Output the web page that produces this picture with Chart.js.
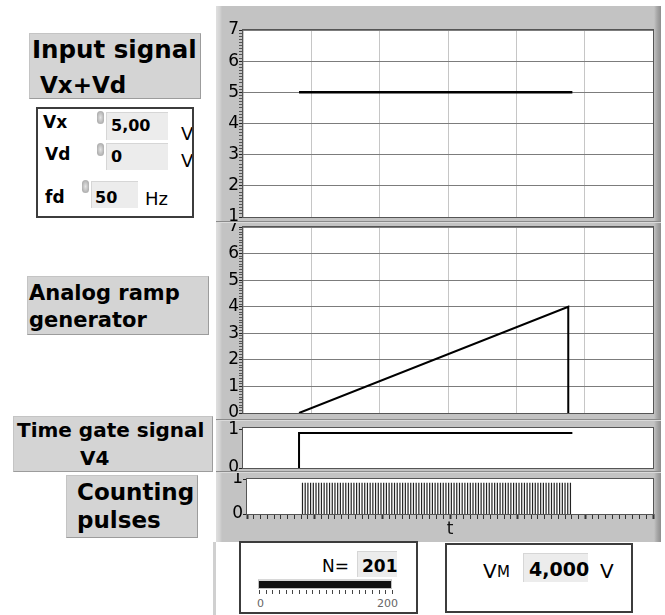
<!DOCTYPE html>
<html>
<head>
<meta charset="utf-8">
<script src="https://cdn.jsdelivr.net/npm/chart.js@4"></script>
<style>
  body { margin: 0; width: 665px; height: 615px; position: relative; overflow: hidden; background: #fff; font-family: 'DejaVu Sans', sans-serif; color: #000; }
  .t { position: absolute; white-space: nowrap; line-height: 1; }
  .b { font-weight: bold; }
  .label { position: absolute; background: #d4d4d4; box-sizing: border-box; border: 1px solid #c4c4c4; border-right-color: #9c9c9c; border-bottom-color: #9c9c9c; }
  .box { position: absolute; box-sizing: border-box; border: 2px solid #3c3c3c; background: #fff; overflow: hidden; }
  .field { position: absolute; box-sizing: border-box; background: #ececec; border-top: 1px solid #d6d6d6; border-left: 1px solid #d6d6d6; }
  .spin { position: absolute; width: 7px; height: 13px; border-radius: 4px; background: radial-gradient(ellipse at 50% 50%, #e4e4e4 0, #b0b0b0 70%); }
  canvas.plot { position: absolute; display: block; left: 216px;
    background: linear-gradient(to right, #e0e0e0 0px, #d2d2d2 4px, #c3c3c3 6px, #c3c3c3 438px, #a8a8a8 441px, #8e8e8e 445px); }
  .sep { position: absolute; left: 216px; width: 445px; height: 1px; background: #8a8a8a; border-bottom: 1px solid #dadada; }
</style>
</head>
<body>
  <!-- left side labels and controls -->
  <div class="label" style="left:29px;top:33px;width:172px;height:66px;"></div>
  <div class="t b" style="left:32px;top:38px;font-size:24.5px;">Input signal</div>
  <div class="t b" style="left:40px;top:73.5px;font-size:23px;">Vx+Vd</div>

  <div class="box" style="left:36px;top:107px;width:158px;height:111px;">
    <div class="t b" style="left:5px;top:4.6px;font-size:17px;">Vx</div>
    <div class="t b" style="left:7px;top:36.6px;font-size:17px;">Vd</div>
    <div class="t b" style="left:7px;top:79.6px;font-size:17px;">fd</div>
    <div class="field" style="left:68px;top:3px;width:62px;height:28px;"></div>
    <div class="field" style="left:68px;top:34px;width:62px;height:27px;"></div>
    <div class="field" style="left:53px;top:72px;width:47px;height:27px;"></div>
    <div class="spin" style="left:59px;top:2px;"></div>
    <div class="spin" style="left:59px;top:34px;"></div>
    <div class="spin" style="left:44px;top:71px;"></div>
    <div class="t b" style="left:73px;top:8.5px;font-size:16px;">5,00</div>
    <div class="t b" style="left:73px;top:39.5px;font-size:16px;">0</div>
    <div class="t b" style="left:57px;top:80.5px;font-size:16px;">50</div>
    <div class="t" style="left:143px;top:15.8px;font-size:18px;">V</div>
    <div class="t" style="left:143px;top:42.8px;font-size:18px;">V</div>
    <div class="t" style="left:107px;top:80.8px;font-size:18px;">Hz</div>
  </div>

  <div class="label" style="left:27px;top:276px;width:182px;height:59px;"></div>
  <div class="t b" style="left:29px;top:283px;font-size:21px;">Analog ramp</div>
  <div class="t b" style="left:29px;top:310px;font-size:21px;">generator</div>

  <div class="label" style="left:13px;top:416px;width:200px;height:56px;"></div>
  <div class="t b" style="left:17px;top:420px;font-size:20px;">Time gate signal</div>
  <div class="t b" style="left:80px;top:448px;font-size:20px;">V4</div>

  <div class="label" style="left:66px;top:475px;width:132px;height:63px;"></div>
  <div class="t b" style="left:77px;top:480.5px;font-size:23px;">Counting</div>
  <div class="t b" style="left:77px;top:508.5px;font-size:23px;">pulses</div>

  <!-- graphs -->
  <canvas class="plot" id="chartInput" width="445" height="217" style="top:6px;"></canvas>
  <canvas class="plot" id="chartRamp" width="445" height="197" style="top:223px;"></canvas>
  <canvas class="plot" id="chartGate" width="445" height="52" style="top:420px;"></canvas>
  <canvas class="plot" id="chartPulses" width="445" height="70" style="top:472px;"></canvas>
  <div class="sep" style="top:221px;"></div>
  <div class="sep" style="top:419px;"></div>
  <div class="sep" style="top:471px;"></div>
  <div style="position:absolute;left:213px;top:542px;width:3px;height:73px;background:#d0d0d0;"></div>

  <!-- indicators -->
  <div class="box" style="left:239px;top:541px;width:179px;height:73px;">
    <div class="t" style="left:81px;top:14.6px;font-size:17px;">N=</div>
    <div class="field" style="left:116px;top:8px;width:40px;height:26px;"></div>
    <div class="t b" style="left:121px;top:14.6px;font-size:17px;" id="countText"></div>
    <div style="position:absolute;left:17px;top:36px;width:134px;height:10px;box-sizing:border-box;border:1px solid #c0c0c0;border-top:2px solid #d8d8d8;background:#111;"></div>
    <div style="position:absolute;left:18px;top:47px;width:134px;height:4px;background:repeating-linear-gradient(to right,#444 0,#444 1px,transparent 1px,transparent 6.65px);"></div>
    <div class="t" style="left:16px;top:54.7px;font-size:11px;color:#666;">0</div>
    <div class="t" style="left:136px;top:54.7px;font-size:11px;color:#666;">200</div>
  </div>
  <div class="box" style="left:445px;top:543px;width:188px;height:70px;">
    <div class="t" style="left:36px;top:16.1px;font-size:20px;">V</div>
    <div class="t" style="left:50px;top:20.3px;font-size:15px;">M</div>
    <div class="field" style="left:76px;top:8px;width:65px;height:29px;"></div>
    <div class="t b" style="left:82px;top:14.9px;font-size:19px;" id="vmText"></div>
    <div class="t" style="left:153px;top:16.1px;font-size:20px;">V</div>
  </div>

<script>
// time axis in samples
const tMin = 0;
const tMax = 300;
const tGrid = 50;

// input signal Vx+Vd
const inputT = [41, 241];
const inputV = [5, 5];

// analog ramp
const rampT = [41, 238, 238];
const rampV = [0, 4, 0];

// time gate V4
const gateT = [41, 41, 241];
const gateV = [0, 0.92, 0.92];

// counting pulses (one per visible stripe)
const pulseTimes = [
  41, 43, 45, 47, 49, 51, 53, 55, 57, 59,
  61, 63, 65, 67, 69, 71, 73, 75, 77, 79,
  81, 83, 85, 87, 89, 91, 93, 95, 97, 99,
  101, 103, 105, 107, 109, 111, 113, 115, 117, 119,
  121, 123, 125, 127, 129, 131, 133, 135, 137, 139,
  141, 143, 145, 147, 149, 151, 153, 155, 157, 159,
  161, 163, 165, 167, 169, 171, 173, 175, 177, 179,
  181, 183, 185, 187, 189, 191, 193, 195, 197, 199,
  201, 203, 205, 207, 209, 211, 213, 215, 217, 219,
  221, 223, 225, 227, 229, 231, 233, 235, 237, 239,
];
const pulseHigh = 0.89;

// indicator values
const countN = '201';
const voltageM = '4,000';

document.getElementById('countText').textContent = countN;
document.getElementById('vmText').textContent = voltageM;

const font = { family: "'DejaVu Sans', sans-serif", size: 17 };

function isWhole(v) {
  return Math.abs(v - Math.round(v)) < 1e-6;
}
function points(xs, ys) {
  return xs.map((x, i) => ({ x: x, y: ys[i] }));
}

const plotFrame = {
  id: 'plotFrame',
  beforeDraw(chart) {
    const { ctx, chartArea: a } = chart;
    ctx.save();
    ctx.fillStyle = '#fff';
    ctx.fillRect(a.left, a.top, a.right - a.left, a.bottom - a.top);
    ctx.restore();
  },
  afterDatasetsDraw(chart) {
    const { ctx, chartArea: a } = chart;
    ctx.save();
    ctx.strokeStyle = '#555';
    ctx.lineWidth = 1;
    ctx.strokeRect(Math.round(a.left) - 0.5, Math.round(a.top) - 0.5, Math.round(a.right - a.left) + 1, Math.round(a.bottom - a.top) + 1);
    ctx.restore();
  },
};

function yAxis(min, max, step, width, minor) {
  return {
    type: 'linear',
    min: min,
    max: max,
    afterFit: s => { s.width = width; s.paddingTop = 0; s.paddingBottom = 0; },
    border: { display: false },
    grid: {
      color: c => minor && isWhole(c.tick.value) ? '#7c7c7c' : 'rgba(0,0,0,0)',
      tickColor: c => isWhole(c.tick.value) ? '#222' : '#555',
      tickLength: 4,
    },
    ticks: {
      stepSize: step,
      autoSkip: false,
      includeBounds: false,
      padding: 0,
      color: '#000',
      font: font,
      callback: v => isWhole(v) ? String(Math.round(v)) : '',
    },
  };
}

function xAxis(showGrid) {
  return {
    type: 'linear',
    min: tMin,
    max: tMax,
    afterFit: s => { s.height = 0; s.paddingLeft = 0; s.paddingRight = 0; },
    border: { display: false },
    grid: { display: showGrid, color: '#c6c6c6', drawTicks: false },
    ticks: { display: false, stepSize: tGrid },
  };
}

function makeChart(id, datasets, x, y, padding) {
  return new Chart(document.getElementById(id), {
    type: 'line',
    data: { datasets: datasets },
    options: {
      responsive: false,
      animation: false,
      events: [],
      layout: { padding: padding },
      plugins: { legend: { display: false }, tooltip: { enabled: false } },
      elements: { point: { radius: 0 }, line: { tension: 0 } },
      scales: { x: x, y: y },
    },
    plugins: [plotFrame],
  });
}

makeChart('chartInput', [{
  data: points(inputT, inputV),
  borderColor: '#000',
  borderWidth: 2.5,
}], xAxis(true), yAxis(1, 7, 0.1, 27, true), { top: 24, right: 8, bottom: 6, left: 0 });

makeChart('chartRamp', [{
  data: points(rampT, rampV),
  borderColor: '#000',
  borderWidth: 2,
}], xAxis(true), yAxis(0, 7, 0.1, 27, true), { top: 4, right: 8, bottom: 7, left: 0 });

makeChart('chartGate', [{
  data: points(gateT, gateV),
  borderColor: '#000',
  borderWidth: 2,
}], xAxis(false), yAxis(0, 1.05, 1, 27, false), { top: 8, right: 8, bottom: 4, left: 0 });

makeChart('chartPulses', [{
  data: pulseTimes.flatMap(t => [{ x: t, y: 0 }, { x: t, y: pulseHigh }, { x: t, y: null }]),
  borderColor: '#222',
  borderWidth: 1.2,
  spanGaps: false,
}], {
  type: 'linear',
  min: tMin,
  max: tMax,
  afterFit: s => { s.height = 28; s.paddingLeft = 0; s.paddingRight = 0; },
  border: { display: false },
  grid: {
    drawOnChartArea: false,
    tickLength: 5,
    tickColor: '#333',
    tickWidth: c => c.tick.value % tGrid === 0 ? 2 : 1,
  },
  ticks: { display: false, stepSize: 5, autoSkip: false },
  title: { display: true, text: 't', color: '#111', font: font, padding: { top: 0, bottom: 2 } },
}, yAxis(0, 1, 1, 31, false), { top: 7, right: 8, bottom: 0, left: 0 });
</script>
</body>
</html>
